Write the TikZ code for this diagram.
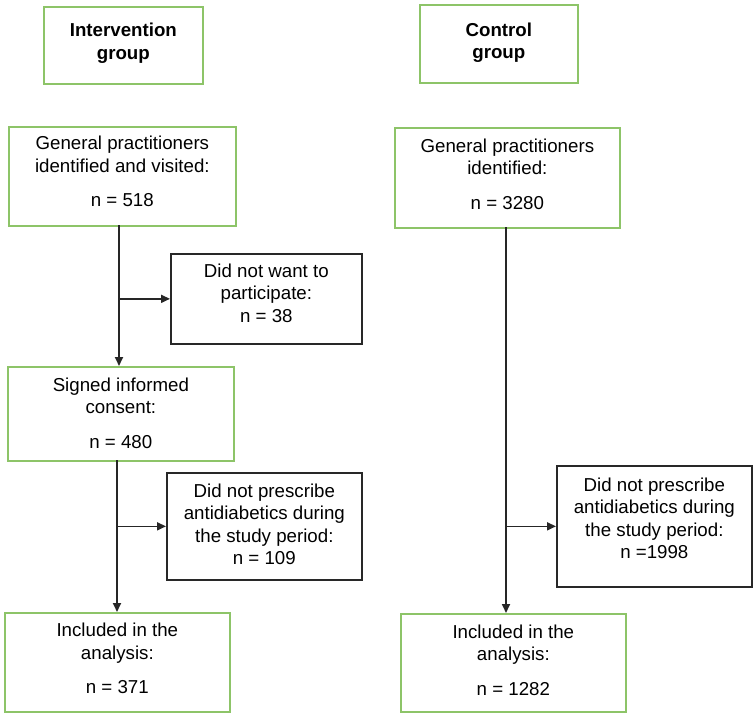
\documentclass[tikz,border=0pt]{standalone}
\usepackage{fontspec}
\setmainfont{Liberation Sans}
\usetikzlibrary{arrows.meta}
\definecolor{boxgreen}{RGB}{141,196,104}
\definecolor{boxgray}{RGB}{40,40,40}
\tikzset{
  gbox/.style={draw=boxgreen, line width=1.7pt, anchor=north west, inner sep=0pt},
  kbox/.style={draw=boxgray, line width=1.7pt, anchor=north west, inner sep=0pt},
  txt/.style={align=center, inner sep=0pt, font=\fontsize{18.7}{22.5}\selectfont},
  arr/.style={draw=black!85, line width=1.7pt, -{Triangle[length=9pt,width=8pt]}}
}
\begin{document}
\begin{tikzpicture}[x=1pt,y=-1pt]
\useasboundingbox (0,0) rectangle (755,715);
\node[gbox, minimum width=159pt, minimum height=77pt] (ig) at (43,6) {};
\node[txt] (igt) at ([yshift=2pt]ig.center) {\textbf{Intervention}\\\textbf{group}};
\node[gbox, minimum width=158pt, minimum height=78pt] (cg) at (419,4) {};
\node[txt] (cgt) at ([yshift=1pt]cg.center) {\textbf{Control}\\\textbf{group}};
\node[gbox, minimum width=227pt, minimum height=99pt] (gp1) at (8,126) {};
\node[txt] (gp1t) at ([yshift=5pt]gp1.center) {General practitioners\\identified and visited:\\[12pt]n = 518};
\node[gbox, minimum width=225pt, minimum height=100pt] (gp2) at (394,127) {};
\node[txt] (gp2t) at ([yshift=4pt]gp2.center) {General practitioners\\identified:\\[12pt]n = 3280};
\node[kbox, minimum width=191pt, minimum height=90pt] (dnw) at (170,253) {};
\node[txt] (dnwt) at ([yshift=6pt]dnw.center) {Did not want to\\participate:\\n = 38};
\node[gbox, minimum width=226pt, minimum height=94pt] (sic) at (7,366) {};
\node[txt] (sict) at ([yshift=1pt]sic.center) {Signed informed\\consent:\\[12pt]n = 480};
\node[kbox, minimum width=195pt, minimum height=107pt] (dnp1) at (166,472) {};
\node[txt] (dnp1t) at ([yshift=2pt]dnp1.center) {Did not prescribe\\antidiabetics during\\the study period:\\n = 109};
\node[kbox, minimum width=195pt, minimum height=121pt] (dnp2) at (556,465) {};
\node[txt] (dnp2t) at ([yshift=8pt]dnp2.center) {Did not prescribe\\antidiabetics during\\the study period:\\n =1998};
\node[gbox, minimum width=225pt, minimum height=99pt] (inc1) at (4,612) {};
\node[txt] (inc1t) at ([yshift=4pt]inc1.center) {Included in the\\analysis:\\[12pt]n = 371};
\node[gbox, minimum width=225pt, minimum height=98pt] (inc2) at (400,613) {};
\node[txt] (inc2t) at ([yshift=3pt]inc2.center) {Included in the\\analysis:\\[12pt]n = 1282};
% intervention arm
\coordinate (a1) at (119,225);
\draw[arr] (a1) -- (a1 |- sic.north);
\draw[arr] (a1 |- dnw.west) -- (dnw.west);
\coordinate (a2) at (117,460);
\draw[arr] (a2) -- (a2 |- inc1.north);
\draw[arr] (a2 |- dnp1.west) -- (dnp1.west);
% control arm
\coordinate (c1) at (506,227);
\draw[arr] (c1) -- (c1 |- inc2.north);
\draw[arr] (c1 |- dnp2.west) -- (dnp2.west);
\end{tikzpicture}
\end{document}
